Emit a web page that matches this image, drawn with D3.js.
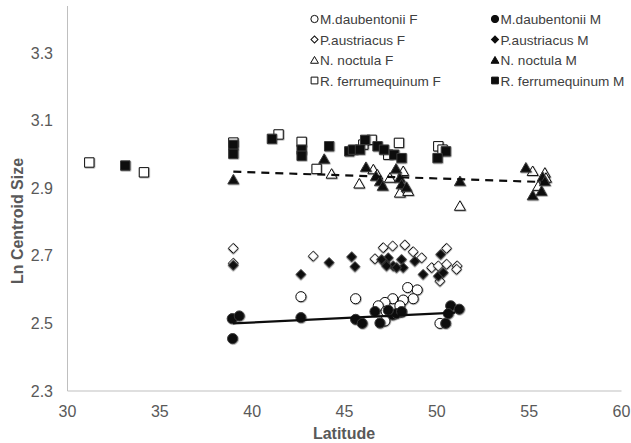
<!DOCTYPE html>
<html lang="en">
<head>
    <meta charset="utf-8">
    <title>Ln Centroid Size vs Latitude</title>
    <script src="https://d3js.org/d3.v7.min.js" charset="utf-8"></script>
    <style>
        body { margin: 0; background: #fff; }
        text { font-family: "Liberation Sans", Arial, sans-serif; }
    </style>
</head>
<body>

<script>

// [latitude, ln centroid size]
var mdF = [[42.64,2.579],[45.60,2.573],[48.42,2.606],[48.94,2.599],[48.72,2.573],[48.18,2.569],[47.61,2.573],
           [47.19,2.562],[46.83,2.552],[48.09,2.534],[48.00,2.552],[47.19,2.507],[50.17,2.500],[47.25,2.536]]
var mdM = [[38.92,2.514],[39.30,2.522],[38.94,2.455],[42.64,2.517],[45.60,2.512],[45.96,2.500],[46.65,2.535],
           [46.92,2.501],[47.61,2.525],[47.82,2.529],[47.37,2.539],[48.09,2.535],[50.75,2.552],[51.21,2.542],
           [50.62,2.529],[50.48,2.500]]
var paF = [[38.98,2.722],[38.98,2.678],[43.31,2.699],[46.65,2.691],[47.10,2.724],[47.61,2.729],[48.27,2.732],
           [48.72,2.712],[49.18,2.694],[50.53,2.722],[49.72,2.665],[50.08,2.670],[50.53,2.675],[51.10,2.670],
           [51.07,2.660],[50.17,2.625]]
var paM = [[38.98,2.672],[42.64,2.645],[44.17,2.680],[45.39,2.697],[45.57,2.668],[47.37,2.694],[47.19,2.680],
           [47.64,2.670],[47.28,2.670],[48.09,2.689],[48.18,2.665],[47.82,2.665],[47.01,2.689],[48.81,2.684],
           [50.21,2.704],[49.26,2.645],[50.08,2.640],[50.35,2.650]]
var nnF = [[44.30,2.942],[46.56,2.955],[45.80,2.913],[47.46,2.930],[48.18,2.950],[48.00,2.886],[48.45,2.891],
           [46.77,2.940],[51.25,2.847],[55.19,2.950],[55.85,2.945],[55.91,2.930],[55.49,2.906]]
var nnM = [[38.98,2.925],[43.90,2.986],[46.16,2.962],[46.70,2.935],[46.92,2.920],[47.07,2.906],[47.79,2.957],
           [48.00,2.930],[48.09,2.911],[48.36,2.903],[51.25,2.920],[54.82,2.960],[55.73,2.933],[55.85,2.920],
           [55.67,2.891],[55.19,2.878]]
var rfF = [[31.18,2.976],[34.14,2.947],[38.98,3.035],[41.43,3.059],[42.68,3.037],[43.49,2.957],[46.47,3.043],
           [47.37,2.999],[47.95,3.034],[50.08,3.024],[50.31,3.014],[46.02,3.029]]
var rfM = [[33.13,2.967],[38.98,3.028],[38.98,3.002],[41.07,3.046],[42.68,3.014],[42.68,2.996],[44.17,3.024],
           [45.26,3.009],[45.46,3.014],[45.84,3.014],[46.12,3.043],[46.79,3.024],[47.14,3.014],[47.69,2.999],
           [48.09,2.989],[50.49,3.009],[50.04,2.989]]

// trendline end points
var mdMTrend = [[38.96,2.500],[51.0,2.532]]
var nnTrend = [[38.98,2.949],[55.9,2.918]]

var xTicks = [30,35,40,45,50,55,60]
var yTicks = [2.3,2.5,2.7,2.9,3.1,3.3]

var w = 631
var h = 443

var series = [
    {name:"M.daubentonii F", data:mdF, shape:"circle", filled:false},
    {name:"M.daubentonii M", data:mdM, shape:"circle", filled:true},
    {name:"P.austriacus F", data:paF, shape:"diamond", filled:false},
    {name:"P.austriacus M", data:paM, shape:"diamond", filled:true},
    {name:"N. noctula F", data:nnF, shape:"triangle", filled:false},
    {name:"N. noctula M", data:nnM, shape:"triangle", filled:true},
    {name:"R. ferrumequinum F", data:rfF, shape:"square", filled:false},
    {name:"R. ferrumequinum M", data:rfM, shape:"square", filled:true}
]

var xScale = d3.scaleLinear().domain([30,60]).range([67.5,621.5])
var yScale = d3.scaleLinear().domain([2.3,3.3]).range([391,53])

var svg = d3.select("body").append("svg").attr("width",w).attr("height",h)

var defs = svg.append("defs")
var f = defs.append("filter").attr("id","shadow").attr("x","-50%").attr("y","-50%").attr("width","200%").attr("height","200%")
f.append("feDropShadow").attr("dx",0.6).attr("dy",0.6).attr("stdDeviation",0.7).attr("flood-color","#000").attr("flood-opacity",0.45)

function symbolPath(shape, scale) {
    var s = scale || 1
    if (shape == "circle") return d3.symbol().type(d3.symbolCircle).size(80*s*s)()
    if (shape == "square") return d3.symbol().type(d3.symbolSquare).size(88*s*s)()
    if (shape == "triangle") return d3.symbol().type(d3.symbolTriangle).size(52*s*s)()
    return d3.symbol().type(d3.symbolSquare).size(48*s*s)()
}

// axes
svg.append("line").attr("x1",xScale(30)).attr("x2",xScale(60)).attr("y1",yScale(2.3)).attr("y2",yScale(2.3))
    .attr("stroke","#bfbfbf").attr("stroke-width",1)
svg.append("line").attr("x1",xScale(30)).attr("x2",xScale(30)).attr("y1",yScale(2.3)).attr("y2",6)
    .attr("stroke","#bfbfbf").attr("stroke-width",1)

svg.selectAll(".xt").data(xTicks).enter().append("text").attr("class","xt")
    .attr("x",function(d){return xScale(d)}).attr("y",417)
    .attr("text-anchor","middle").attr("font-size","16px").attr("fill","#595959")
    .text(function(d){return d})

svg.selectAll(".yt").data(yTicks).enter().append("text").attr("class","yt")
    .attr("x",53).attr("y",function(d){return yScale(d)+5.5})
    .attr("text-anchor","end").attr("font-size","16px").attr("fill","#595959")
    .text(function(d){return d.toFixed(1)})

svg.append("text").attr("x",344).attr("y",439).attr("text-anchor","middle")
    .attr("font-size","16px").attr("font-weight","bold").attr("fill","#595959").text("Latitude")
svg.append("text").attr("transform","translate(23,221) rotate(-90)").attr("text-anchor","middle")
    .attr("font-size","16px").attr("font-weight","bold").attr("fill","#595959").text("Ln Centroid Size")

// points
series.forEach(function(s) {
    svg.append("g").selectAll("path").data(s.data).enter().append("path")
        .attr("d",symbolPath(s.shape))
        .attr("transform",function(d){
            var t = "translate(" + xScale(d[0]) + "," + yScale(d[1]) + ")"
            if (s.shape == "diamond") t += " rotate(45)"
            if (s.shape == "triangle") t += " translate(0,1)"
            return t
        })
        .attr("fill", s.filled ? "#0d0d0d" : "#fff")
        .attr("stroke", s.filled ? "#3a3a3a" : "#0d0d0d")
        .attr("stroke-width",1)
        .attr("filter","url(#shadow)")
})

// trendlines
var line = d3.line().x(function(d){return xScale(d[0])}).y(function(d){return yScale(d[1])})
svg.append("path").datum(mdMTrend).attr("d",line).attr("fill","none").attr("stroke","#0d0d0d").attr("stroke-width",2.2)
svg.append("path").datum(nnTrend).attr("d",line).attr("fill","none").attr("stroke","#0d0d0d").attr("stroke-width",2.2)
    .attr("stroke-dasharray","8,6")

// legend
var legendRows = [19,39.5,60,80.5]
series.forEach(function(s, i) {
    var col = i % 2
    var row = Math.floor(i / 2)
    var mx = col == 0 ? 314.5 : 495
    var g = svg.append("g").attr("transform","translate(" + mx + "," + legendRows[row] + ")")
    g.append("path").attr("d",symbolPath(s.shape,0.72))
        .attr("transform", s.shape == "diamond" ? "rotate(45)" : (s.shape == "triangle" ? "translate(0,1)" : null))
        .attr("fill", s.filled ? "#0d0d0d" : "#fff")
        .attr("stroke","#0d0d0d").attr("stroke-width",1)
    g.append("text").attr("x",5.5).attr("y",5).attr("font-size","13.6px").attr("fill","#404040").text(s.name)
})

</script>

</body>
</html>
